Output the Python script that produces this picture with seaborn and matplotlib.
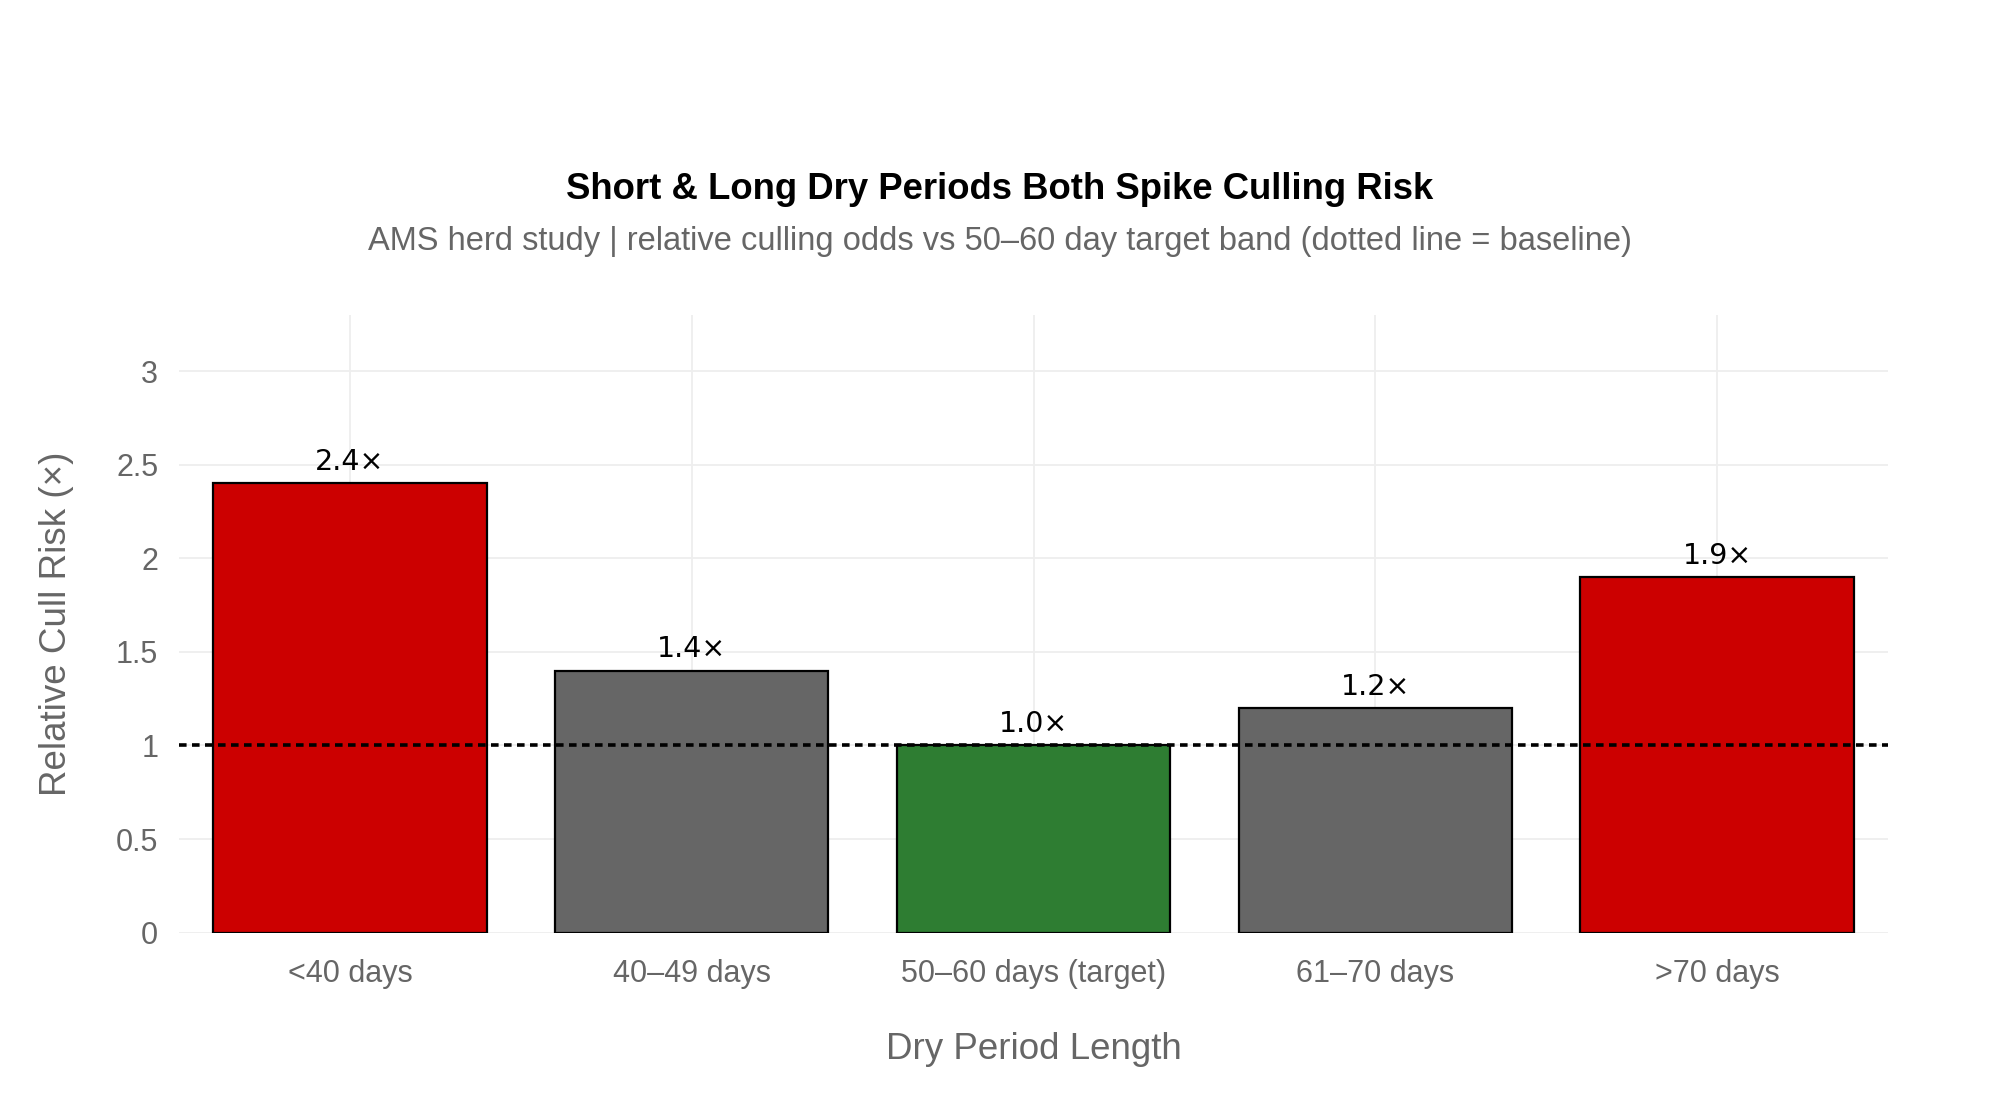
import pandas as pd
import seaborn as sns
import matplotlib.pyplot as plt

# data
categories = ["<40 days", "40–49 days", "50–60 days (target)", "61–70 days", ">70 days"]
risk = [2.4, 1.4, 1.0, 1.2, 1.9]
bar_colors = ["#CC0000", "#666666", "#2E7D32", "#666666", "#CC0000"]
labels = ["2.4×", "1.4×", "1.0×", "1.2×", "1.9×"]
baseline = 1.0

df = pd.DataFrame({"period": categories, "risk": risk})

sns.set_style("white")
plt.rcParams["font.family"] = ["Liberation Sans", "DejaVu Sans"]

fig = plt.figure(figsize=(20, 11.11), dpi=100)
ax = fig.add_axes([0.0895, 0.1605, 0.8545, 0.556])

sns.barplot(data=df, x="period", y="risk", hue="period", palette=bar_colors,
            legend=False, width=0.8, edgecolor="black", linewidth=1.6,
            saturation=1, ax=ax, zorder=2)

# bar labels
for i, (v, t) in enumerate(zip(risk, labels)):
    ax.text(i, v + 0.04, t, ha="center", va="bottom", fontsize=20.5,
            family="DejaVu Sans", color="black", zorder=4)

# baseline
ax.axhline(baseline, color="black", linewidth=2.6, linestyle=(0, (2.1, 1.5)), zorder=3)

ax.set_ylim(0, 3.3)
ax.set_xlim(-0.5, 4.5)
ax.set_yticks([0, 0.5, 1, 1.5, 2, 2.5, 3])
ax.set_yticklabels(["0", "0.5", "1", "1.5", "2", "2.5", "3"])

ax.grid(True, color="#eeeeee", linewidth=1.3, zorder=0)
ax.set_axisbelow(True)
for s in ax.spines.values():
    s.set_visible(False)

ax.tick_params(axis="both", colors="#cccccc", length=9, width=1.3,
               labelcolor="#666666", labelsize=22, pad=6)
ax.tick_params(axis="x", pad=10)

ax.set_xlabel("Dry Period Length", fontsize=26.5, color="#666666", labelpad=31)
ax.set_ylabel("Relative Cull Risk (×)", fontsize=26.5, color="#666666", labelpad=30)

fig.text(0.5, 0.829, "Short & Long Dry Periods Both Spike Culling Risk",
         ha="center", va="center", fontsize=26.3, fontweight="bold", color="black")
fig.text(0.5, 0.783, "AMS herd study | relative culling odds vs 50–60 day target band (dotted line = baseline)",
         ha="center", va="center", fontsize=23.5, color="#666666")

plt.savefig("out.png", dpi=100)
plt.close()
